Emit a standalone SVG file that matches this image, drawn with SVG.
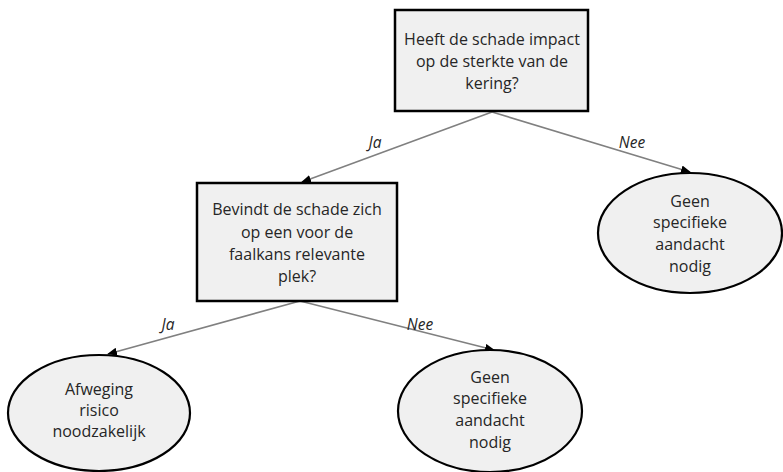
<svg xmlns="http://www.w3.org/2000/svg" width="783" height="472" viewBox="0 0 783 472">
<defs>
<style>
.box{fill:#f0f0f0;stroke:#000;stroke-width:2.5}
.ell{fill:#f0f0f0;stroke:#000;stroke-width:2.2}
.t{font-family:"Open Sans","Liberation Sans",sans-serif;font-size:16px;fill:#262626;text-anchor:middle}
.lbl{font-family:"Open Sans","Liberation Sans",sans-serif;font-size:15.5px;font-style:italic;fill:#262626;text-anchor:middle}
.c{stroke:#808080;stroke-width:1.6;fill:none;marker-end:url(#ah)}
</style>
<marker id="ah" markerWidth="10" markerHeight="8" refX="9" refY="4" orient="auto" markerUnits="userSpaceOnUse">
<path d="M0,0 L10,4 L0,8 Z" fill="#000"/>
</marker>
</defs>
<rect width="783" height="472" fill="#fff"/>
<g id="connectors">
<line class="c" x1="492" y1="112" x2="302" y2="182"/>
<line class="c" x1="492" y1="112" x2="690" y2="172"/>
<line class="c" x1="300" y1="301" x2="108" y2="354"/>
<line class="c" x1="300" y1="301" x2="494" y2="350"/>
<text class="lbl" x="375" y="148">Ja</text>
<text class="lbl" x="632" y="148">Nee</text>
<text class="lbl" x="168" y="330">Ja</text>
<text class="lbl" x="420" y="330">Nee</text>
</g>
<g id="q1">
<rect class="box" x="395" y="10" width="193" height="101"/>
<text class="t" x="492" y="45">Heeft de schade impact</text>
<text class="t" x="492" y="67">op de sterkte van de</text>
<text class="t" x="492" y="89">kering?</text>
</g>
<g id="q2">
<rect class="box" x="197" y="183" width="200" height="118"/>
<text class="t" x="297" y="215">Bevindt de schade zich</text>
<text class="t" x="297" y="238">op een voor de</text>
<text class="t" x="297" y="260">faalkans relevante</text>
<text class="t" x="297" y="282">plek?</text>
</g>
<g id="a1">
<ellipse class="ell" cx="690" cy="233" rx="92" ry="60"/>
<text class="t" x="690" y="207">Geen</text>
<text class="t" x="690" y="228">specifieke</text>
<text class="t" x="690" y="250">aandacht</text>
<text class="t" x="690" y="272">nodig</text>
</g>
<g id="a2">
<ellipse class="ell" cx="99" cy="413" rx="91" ry="58"/>
<text class="t" x="99" y="395">Afweging</text>
<text class="t" x="99" y="416">risico</text>
<text class="t" x="99" y="437">noodzakelijk</text>
</g>
<g id="a3">
<ellipse class="ell" cx="490" cy="411" rx="92" ry="61"/>
<text class="t" x="490" y="383">Geen</text>
<text class="t" x="490" y="404">specifieke</text>
<text class="t" x="490" y="426">aandacht</text>
<text class="t" x="490" y="448">nodig</text>
</g>
</svg>
